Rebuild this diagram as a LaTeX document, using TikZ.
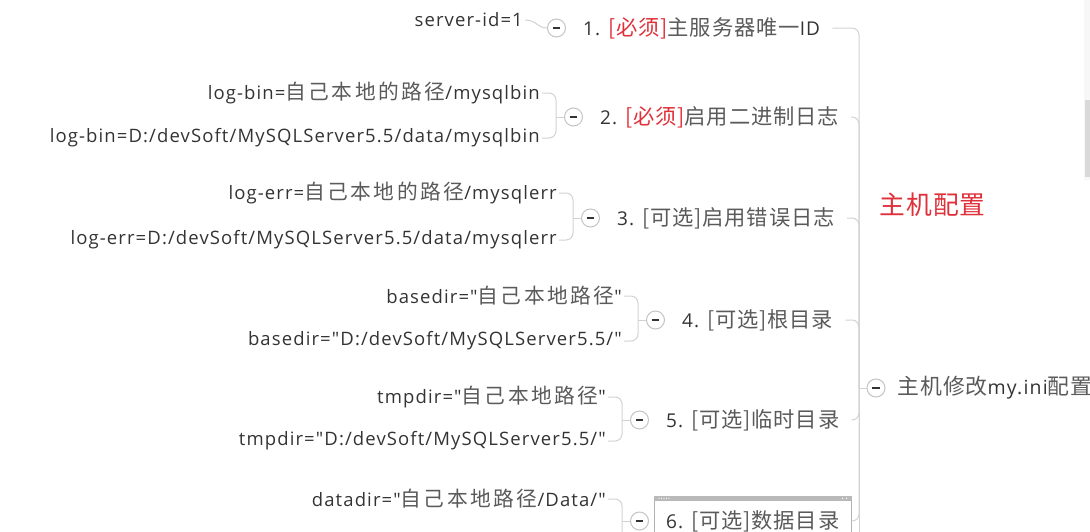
\documentclass[tikz,border=0pt]{standalone}
\usepackage{fontspec}
\setmainfont{Open Sans}[LetterSpace=6, Ligatures=TeXOff]
\newfontfamily\cjk{Noto Sans CJK SC}[Scale=1.12, LetterSpace=4]
\newfontfamily\cjkwide{Noto Sans CJK SC}[Scale=1.12, LetterSpace=12]
\usetikzlibrary{positioning,calc}
\definecolor{txtgray}{HTML}{333333}
\definecolor{cjkgray}{HTML}{5A5A5A}
\definecolor{reqred}{HTML}{E0303A}
\definecolor{linegray}{HTML}{D2D2D2}
\definecolor{foldgray}{HTML}{C4C4C4}
\newcommand{\zh}[1]{{\cjk\color{cjkgray}#1}}
\newcommand{\zhw}[1]{{\cjkwide\color{cjkgray}#1}}
\newcommand{\req}[1]{{\cjk\color{reqred}#1}}
\tikzstyle{leaf} = [anchor=east, inner sep=2pt, text=txtgray, font=\fontsize{18.5}{22}\selectfont]
\tikzstyle{topic} = [anchor=west, inner sep=2pt, text=txtgray, font=\fontsize{19}{23}\selectfont]
\tikzstyle{fold} = [circle, draw=foldgray, line width=1pt, fill=white, minimum size=18pt, inner sep=0pt, path picture={\draw[txtgray, line width=1.1pt] ([xshift=-3.8pt]path picture bounding box.center) -- ([xshift=3.8pt]path picture bounding box.center);}]
\tikzstyle{link} = [draw=linegray, line width=1pt, rounded corners=7pt]

\begin{document}
\begin{tikzpicture}[x=1pt, y=-1pt]
      \useasboundingbox (0,0) rectangle (1090,531);
      \clip (0,0) rectangle (1090,531);
      % topics
      \node (t1)[topic] at (581,28) {1. \req{[必须]}\zh{主服务器唯一}ID};
      \node (t2)[topic] at (598,117) {2. \req{[必须]}\zh{启用二进制日志}};
      \node (t3)[topic] at (615,218) {3. \zh{[可选]启用错误日志}};
      \node (t4)[topic] at (680,320) {4. \zh{[可选]根目录}};
      \node (t5)[topic] at (664,420) {5. \zh{[可选]临时目录}};
      \node (t6)[topic, draw=gray!60, fill=white, inner xsep=12pt, minimum height=50pt] at (654,521) {6. \zh{[可选]数据目录}};
      \fill[gray!55] (t6.north west) rectangle ($(t6.north east)+(0,5)$);
      \foreach \i in {0,...,4} \fill[white] ($(t6.north west)+(5+2.5*\i,2.5)$) circle (0.6);
      \fill[white] ($(t6.north east)+(-9,2.5)$) circle (0.7) ($(t6.north east)+(-5,2.5)$) circle (0.7);
      % fold buttons
      \node (c1)[fold, left=15pt of t1] {};
      \node (c2)[fold, left=15pt of t2] {};
      \node (c3)[fold, left=15pt of t3] {};
      \node (c4)[fold, left=15pt of t4] {};
      \node (c5)[fold, left=15pt of t5] {};
      \node (c6)[fold, left=5pt of t6] {};
      % leaves
      \node (l1)[leaf] at ($(c1.west)+(-22,-8)$) {server-id=1};
      \node (l2a)[leaf] at ($(c2.west)+(-22,-24)$) {log-bin=\zhw{自己本地的路径}/mysqlbin};
      \node (l2b)[leaf] at ($(c2.west)+(-22,21)$) {log-bin=D:/devSoft/MySQLServer5.5/data/mysqlbin};
      \node (l3a)[leaf] at ($(c3.west)+(-22,-25)$) {log-err=\zhw{自己本地的路径}/mysqlerr};
      \node (l3b)[leaf] at ($(c3.west)+(-22,22)$) {log-err=D:/devSoft/MySQLServer5.5/data/mysqlerr};
      \node (l4a)[leaf] at ($(c4.west)+(-22,-24)$) {basedir="\zhw{自己本地路径}"};
      \node (l4b)[leaf] at ($(c4.west)+(-22,21)$) {basedir="D:/devSoft/MySQLServer5.5/"};
      \node (l5a)[leaf] at ($(c5.west)+(-22,-23)$) {tmpdir="\zhw{自己本地路径}"};
      \node (l5b)[leaf] at ($(c5.west)+(-22,21)$) {tmpdir="D:/devSoft/MySQLServer5.5/"};
      \node (l6a)[leaf] at ($(c6.west)+(-22,-22)$) {datadir="\zhw{自己本地路径}/Data/"};
      \coordinate (l6b) at ($(c6.west)+(-22,21)$);
      % main topic
      \node (c0)[fold] at (876,388) {};
      \node (t0)[topic, right=10pt of c0, font=\fontsize{19.5}{23}\selectfont] {\zh{主机修改}my.ini\zh{配置}};
      \node (note)[anchor=west, text=reqred, font=\cjk\fontsize{23}{28}\selectfont] at (876,205) {主机配置};
      \coordinate (spine) at (859,388);
      \coordinate (spineend) at (859,545);
      % connectors
      \draw [link](l1.east) .. controls +(12,0) and +(-10,0) .. (c1.west);
      \draw [link](l2a.east) -| ($(c2.west)+(-8,0)$) |- (l2b.east);
      \draw [link](c2.west) -- ++(-8,0);
      \draw [link](l3a.east) -| ($(c3.west)+(-8,0)$) |- (l3b.east);
      \draw [link](c3.west) -- ++(-8,0);
      \draw [link](l4a.east) -| ($(c4.west)+(-8,0)$) |- (l4b.east);
      \draw [link](c4.west) -- ++(-8,0);
      \draw [link](l5a.east) -| ($(c5.west)+(-8,0)$) |- (l5b.east);
      \draw [link](c5.west) -- ++(-8,0);
      \draw [link](l6a.east) -| ($(c6.west)+(-8,0)$) |- (l6b);
      \draw [link](c6.west) -- ++(-8,0);
      \foreach \k in {1,...,5} \draw [link](t\k.east) ++(10,0) -| (spine);
      \draw [link](t6.east) -| (spine);
      \draw [link](spine) -- (spineend);
      \draw [link](spine) -- (c0.west);
      % scroll bar
      \fill[gray!6] (1084,0) rectangle (1090,180);
      \fill[gray!30] (1085,100) rectangle (1090,177);
    \end{tikzpicture}
\end{document}
